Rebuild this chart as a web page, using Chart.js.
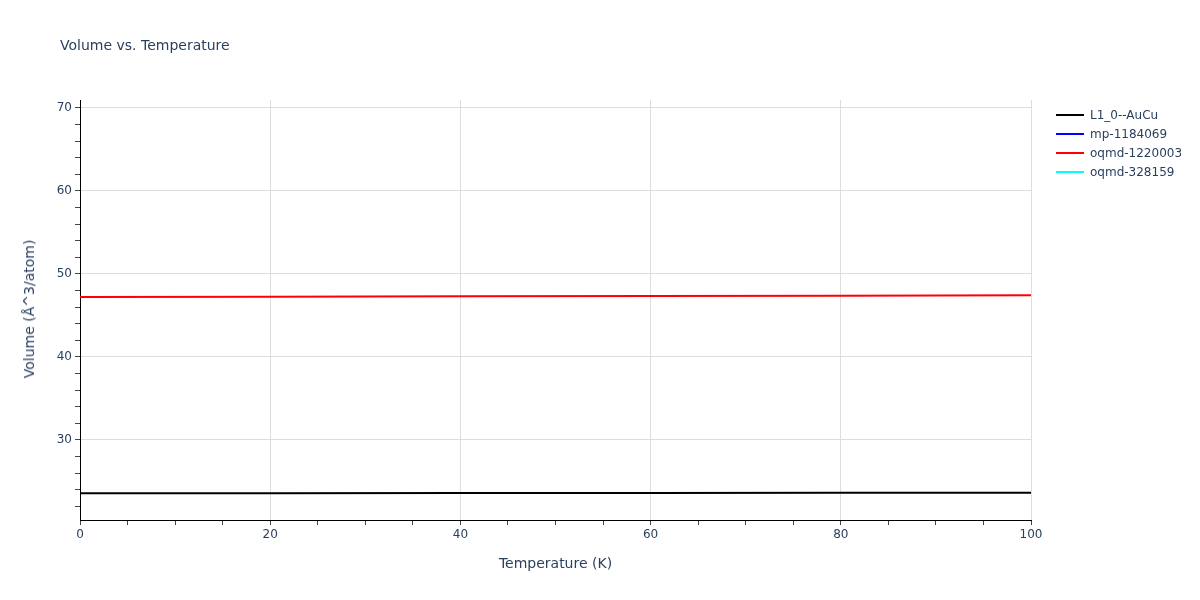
<!DOCTYPE html>
<html>
<head>
<meta charset="utf-8">
<script src="https://cdn.jsdelivr.net/npm/chart.js@4/dist/chart.umd.min.js"></script>
<style>
  html, body { margin: 0; padding: 0; background: #fff; }
  #wrap { position: relative; width: 1200px; height: 600px; font-family: "DejaVu Sans", Verdana, sans-serif; color: #2a3f5f; }
  #c { position: absolute; left: 0; top: 0; }
  .title { position: absolute; left: 60px; top: 37px; font-size: 14px; white-space: nowrap; }
  .xtitle { position: absolute; left: 0; width: 1111px; text-align: center; top: 555px; font-size: 14px; }
  .ytitle { position: absolute; left: 29px; top: 309px; font-size: 14px; white-space: nowrap; transform: translate(-50%, -50%) rotate(-90deg); }
  .legend { position: absolute; left: 1056px; top: 105px; font-size: 12px; }
  .legend div { height: 19px; display: flex; align-items: center; white-space: nowrap; }
  .legend span.sw { display: inline-block; width: 28px; height: 2px; margin-right: 6px; }
</style>
</head>
<body>
<div id="wrap">
  <canvas id="c" width="1200" height="600"></canvas>
  <div class="title">Volume vs. Temperature</div>
  <div class="xtitle">Temperature (K)</div>
  <div class="ytitle">Volume (Å^3/atom)</div>
  <div class="legend" id="legend"></div>
</div>
<script>
const temperatures = [0, 20, 40, 60, 80, 100];
const seriesNames = ["L1_0--AuCu", "mp-1184069", "oqmd-1220003", "oqmd-328159"];
const seriesColors = ["#000000", "#0000ff", "#ff0000", "#00ffff"];
const volL10AuCu = [23.58, 23.59, 23.61, 23.62, 23.64, 23.65];
const volMp1184069 = [];
const volOqmd1220003 = [47.23, 47.27, 47.31, 47.35, 47.39, 47.43];
const volOqmd328159 = [];
const seriesValues = [volL10AuCu, volMp1184069, volOqmd1220003, volOqmd328159];

const legendEl = document.getElementById('legend');
seriesNames.forEach((n, i) => {
  const row = document.createElement('div');
  row.innerHTML = '<span class="sw" style="background:' + seriesColors[i] + '"></span>' + n;
  legendEl.appendChild(row);
});

const datasets = seriesNames.map((n, i) => ({
  label: n,
  data: seriesValues[i].map((v, k) => ({ x: temperatures[k], y: v })),
  borderColor: seriesColors[i],
  backgroundColor: seriesColors[i],
  borderWidth: 2,
  pointRadius: 0,
  tension: 0,
  fill: false
}));

const tickFont = { family: '"DejaVu Sans", Verdana, sans-serif', size: 12 };

new Chart(document.getElementById('c'), {
  type: 'line',
  data: { datasets },
  options: {
    responsive: false,
    devicePixelRatio: 1,
    animation: false,
    layout: { padding: { left: 0, top: 100, right: 169, bottom: 0 } },
    plugins: { legend: { display: false }, title: { display: false }, tooltip: { enabled: false } },
    scales: {
      x: {
        type: 'linear',
        min: 0, max: 100,
        afterFit: s => { s.height = 80; },
        border: { color: '#000', width: 1 },
        grid: {
          color: ctx => (ctx.tick && ctx.tick.value % 20 === 0 && ctx.tick.value !== 0) ? '#dddddd' : 'rgba(0,0,0,0)',
          tickColor: '#444',
          tickLength: 5,
          lineWidth: 1
        },
        ticks: {
          stepSize: 5,
          autoSkip: false,
          maxRotation: 0,
          padding: 3,
          color: '#2a3f5f',
          font: tickFont,
          callback: v => (v % 20 === 0 ? String(v) : '')
        }
      },
      y: {
        type: 'linear',
        min: 20.36, max: 70.96,
        afterFit: s => { s.width = 80; },
        border: { color: '#000', width: 1 },
        grid: {
          color: ctx => (ctx.tick && Math.abs(ctx.tick.value % 10) < 1e-6) ? '#dddddd' : 'rgba(0,0,0,0)',
          tickColor: '#444',
          tickLength: 5,
          lineWidth: 1
        },
        ticks: {
          stepSize: 2,
          includeBounds: false,
          autoSkip: false,
          padding: 3,
          color: '#2a3f5f',
          font: tickFont,
          callback: v => (Math.abs(v % 10) < 1e-6 ? String(v) : '')
        }
      }
    }
  }
});
</script>
</body>
</html>
